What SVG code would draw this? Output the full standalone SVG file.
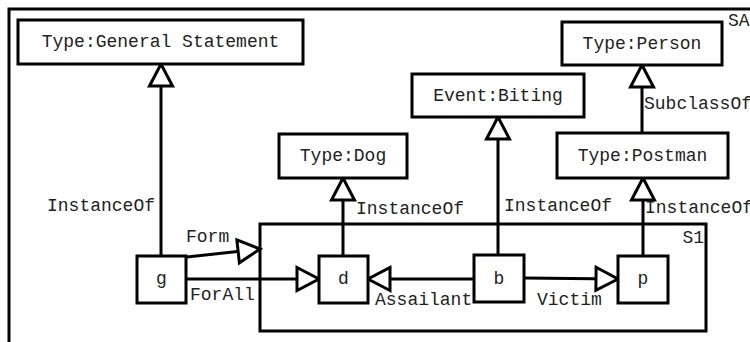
<svg xmlns="http://www.w3.org/2000/svg" width="750" height="342" viewBox="0 0 750 342">
<style>
.box{fill:#fff;stroke:#000;stroke-width:3}
.frame{fill:none;stroke:#000;stroke-width:3}
.ln{fill:none;stroke:#000;stroke-width:3}
text{font-family:"Liberation Mono","Courier New",monospace;font-size:18px;fill:#222}
.c{text-anchor:middle}
</style>
<defs>
<marker id="tri" markerUnits="userSpaceOnUse" markerWidth="30" markerHeight="30" refX="22" refY="11.5" orient="auto" overflow="visible">
<path d="M0,0 L22,11.5 L0,23 Z" fill="#fff" stroke="#000" stroke-width="3" stroke-linejoin="miter"/>
</marker>
</defs>
<rect width="750" height="342" fill="#fff"/>
<g id="SA">
<rect class="frame" x="9" y="9" width="800" height="400"/>
<text x="728" y="26">SA</text>
</g>
<g id="S1">
<rect class="frame" x="260" y="224" width="446" height="107"/>
<text x="704" y="243" text-anchor="end">S1</text>
</g>
<g id="connectors">
<path class="ln" d="M161,256 V64" marker-end="url(#tri)"/>
<path class="ln" d="M343,256 V178" marker-end="url(#tri)"/>
<path class="ln" d="M498,255 V117" marker-end="url(#tri)"/>
<path class="ln" d="M643,256 V178" marker-end="url(#tri)"/>
<path class="ln" d="M642,133 V65" marker-end="url(#tri)"/>
<path class="ln" d="M187,257 L260,249" marker-end="url(#tri)"/>
<path class="ln" d="M186,279 H319" marker-end="url(#tri)"/>
<path class="ln" d="M474,279 H368" marker-end="url(#tri)"/>
<path class="ln" d="M524,278 L618,279" marker-end="url(#tri)"/>
<text x="47" y="211">InstanceOf</text>
<text x="356" y="214">InstanceOf</text>
<text x="504" y="211">InstanceOf</text>
<text x="645" y="213">InstanceOf</text>
<text x="644" y="109">SubclassOf</text>
<text x="186" y="242">Form</text>
<text x="190" y="300">ForAll</text>
<text x="375" y="305">Assailant</text>
<text x="537" y="305">Victim</text>
</g>
<g id="general-statement">
<rect class="box" x="18" y="20" width="285" height="44"/>
<text class="c" x="160.5" y="47">Type:General Statement</text>
</g>
<g id="dog">
<rect class="box" x="279" y="134" width="128" height="44"/>
<text class="c" x="343" y="161">Type:Dog</text>
</g>
<g id="biting">
<rect class="box" x="412" y="74" width="172" height="43"/>
<text class="c" x="498" y="100.5">Event:Biting</text>
</g>
<g id="person">
<rect class="box" x="562" y="22" width="160" height="43"/>
<text class="c" x="642" y="48.5">Type:Person</text>
</g>
<g id="postman">
<rect class="box" x="557" y="133" width="171" height="45"/>
<text class="c" x="642.5" y="160.5">Type:Postman</text>
</g>
<g id="g">
<rect class="box" x="137" y="256" width="49" height="47"/>
<text class="c" x="161.5" y="284">g</text>
</g>
<g id="d">
<rect class="box" x="319" y="256" width="49" height="47"/>
<text class="c" x="343.5" y="284">d</text>
</g>
<g id="b">
<rect class="box" x="474" y="255" width="50" height="47"/>
<text class="c" x="499" y="284">b</text>
</g>
<g id="p">
<rect class="box" x="618" y="256" width="50" height="47"/>
<text class="c" x="643" y="284">p</text>
</g>
</svg>
